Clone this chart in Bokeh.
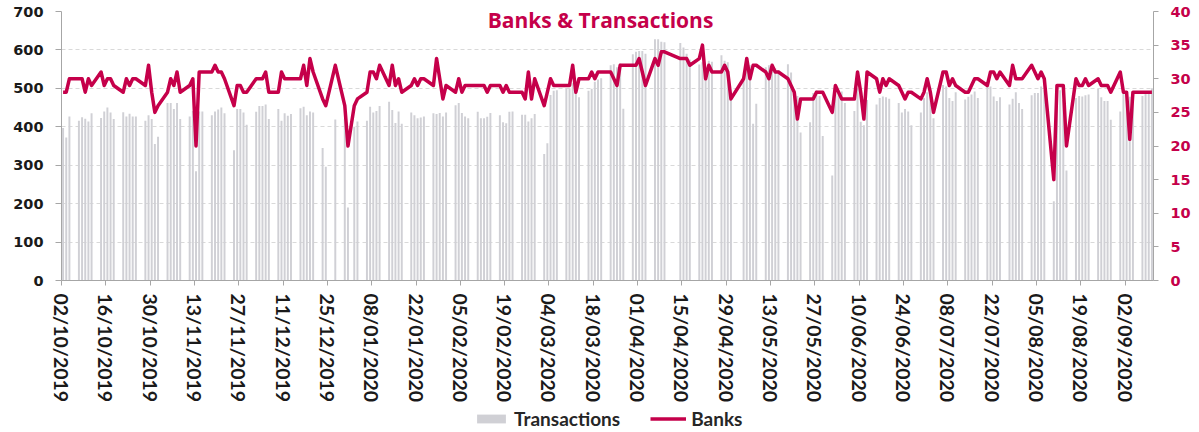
import pandas as pd
from bokeh.plotting import figure
from bokeh.layouts import column
from bokeh.models import (ColumnDataSource, Range1d, LinearAxis, FixedTicker,
                          DatetimeTickFormatter, Legend, LegendItem, Label)
from bokeh.embed import file_html
from bokeh.resources import INLINE

# ---------------- data ----------------
start_date = "2019-10-02"
end_date = "2020-09-10"
holidays = ["2019-12-25", "2019-12-26", "2020-01-01",
            "2020-04-10", "2020-04-13", "2020-05-01"]

transactions = [
    397, 372, 427,                      # Oct 2-4
    416, 425, 421, 414, 435,            # Oct 7-11
    423, 440, 450, 437, 420,            # Oct 14-18
    438, 427, 434, 427, 427,            # Oct 21-25
    416, 430, 420, 355, 374,            # Oct 28-Nov 1
    462, 462, 446, 462, 420,            # Nov 4-8
    427, 441, 284, 440, 440,            # Nov 11-15
    430, 440, 445, 450, 435,            # Nov 18-22
    339, 446, 446, 437, 405,            # Nov 25-29
    439, 454, 454, 458, 420,            # Dec 2-6
    446, 416, 435, 429, 433,            # Dec 9-13
    448, 452, 430, 440, 437,            # Dec 16-20
    345, 296, 419,                      # Dec 23, 24, 27
    420, 190, 400, 414,                 # Dec 30, 31, Jan 2, 3
    416, 452, 437, 441, 454,            # Jan 6-10
    465, 444, 410, 440, 408,            # Jan 13-17
    437, 430, 422, 424, 427,            # Jan 20-24
    435, 433, 436, 427, 437,            # Jan 27-31
    456, 462, 436, 427, 422,            # Feb 3-7
    439, 422, 422, 426, 436,            # Feb 10-14
    430, 412, 409, 439, 440,            # Feb 17-21
    431, 431, 414, 422, 433,            # Feb 24-28
    329, 357, 483, 494, 495,            # Mar 2-6
    500, 500, 513, 500, 477,            # Mar 9-13
    494, 499, 517, 523, 526,            # Mar 16-20
    560, 563, 555, 565, 447,            # Mar 23-27
    589, 595, 597, 597, 590,            # Mar 30-Apr 3
    628, 628, 621, 620,                 # Apr 6-9
    618, 606, 590, 575,                 # Apr 14-17
    562, 568, 534, 572, 569,            # Apr 20-24
    586, 572, 568, 471,                 # Apr 27-30
    520, 575, 560, 408, 460,            # May 4-8
    555, 560, 548, 552, 548,            # May 11-15
    563, 541, 495, 480, 385,            # May 18-22
    412, 488, 495, 480, 376,            # May 25-29
    273, 487, 495, 492, 462,            # Jun 1-5
    441, 500, 413, 404, 470,            # Jun 8-12
    458, 475, 479, 477, 473,            # Jun 15-19
    462, 437, 446, 440, 404,            # Jun 22-26
    437, 475, 490, 482, 422,            # Jun 29-Jul 3
    509, 505, 475, 467, 490,            # Jul 6-10
    471, 478, 484, 492, 475,            # Jul 13-17
    505, 505, 479, 467, 477,            # Jul 20-24
    458, 473, 490, 462, 446,            # Jul 27-31
    482, 488, 488, 505, 495,            # Aug 3-7
    206, 480, 495, 470, 286,            # Aug 10-14
    475, 480, 479, 482, 484,            # Aug 17-21
    499, 477, 467, 467, 418,            # Aug 24-28
    440, 490, 480, 478, 475,            # Aug 31-Sep 4
    480, 485, 488, 500,                 # Sep 7-10
]

banks = [
    28, 28, 30,
    30, 30, 28, 30, 29,
    31, 29, 30, 30, 29,
    28, 30, 29, 30, 30,
    29, 32, 28, 25, 26,
    28, 30, 29, 31, 28,
    29, 30, 20, 31, 31,
    31, 32, 31, 31, 30,
    26, 29, 29, 28, 28,
    30, 30, 30, 31, 28,
    28, 31, 30, 30, 30,
    30, 32, 29, 33, 31,
    27, 26, 32,
    26, 20, 26, 27,
    28, 31, 31, 30, 32,
    29, 32, 29, 30, 28,
    29, 30, 29, 30, 30,
    29, 33, 30, 27, 29,
    28, 30, 28, 29, 29,
    29, 29, 29, 28, 29,
    29, 28, 29, 28, 28,
    28, 27, 31, 27, 30,
    26, 28, 30, 29, 29,
    29, 29, 32, 28, 30,
    30, 31, 30, 31, 31,
    31, 30, 29, 32, 32,
    32, 32, 33, 31, 29,
    33, 32, 34, 34,
    33, 33, 33, 32,
    33, 35, 30, 32, 31,
    31, 32, 31, 27,
    30, 33, 30, 32, 32,
    31, 30, 32, 31, 31,
    30, 29, 28, 24, 27,
    27, 27, 28, 28, 28,
    25, 29, 28, 27, 27,
    27, 31, 28, 24, 31,
    30, 28, 30, 29, 30,
    29, 28, 27, 28, 28,
    27, 28, 30, 28, 25,
    31, 31, 29, 30, 29,
    28, 28, 29, 30, 30,
    29, 31, 31, 30, 31,
    29, 32, 30, 30, 30,
    32, 31, 30, 31, 30,
    15, 29, 29, 29, 20,
    30, 29, 29, 30, 29,
    30, 29, 29, 29, 28,
    31, 28, 28, 21, 28,
    28, 28, 28, 28,
]

tick_dates = pd.date_range(start_date, "2020-09-02", freq="14D")

# ---------------- build ----------------
days = pd.bdate_range(start_date, end_date)
days = days[~days.isin(pd.to_datetime(holidays))]
assert len(days) == len(transactions) == len(banks), (len(days), len(transactions), len(banks))

centers = days + pd.Timedelta(hours=12)
src = ColumnDataSource(dict(x=centers, trans=transactions, banks=banks))

CRIMSON = "#C5004A"
BARGRAY = "#D0D0D5"
AXISGRAY = "#A6A6A6"
DAY_MS = 86400000

x0 = pd.Timestamp(start_date)
x1 = pd.Timestamp(end_date) + pd.Timedelta(days=1)

p = figure(width=1199, height=405, x_axis_type="datetime",
           x_range=Range1d(x0, x1), y_range=Range1d(0, 700),
           output_backend="svg", toolbar_location=None,
           min_border_left=61, min_border_right=46,
           min_border_top=11, min_border_bottom=117)
p.outline_line_color = None
p.extra_y_ranges = {"banks": Range1d(0, 40)}

bars = p.vbar(x="x", top="trans", width=0.62 * DAY_MS, source=src,
              fill_color=BARGRAY, line_color=None)
line = p.line(x="x", y="banks", y_range_name="banks", source=src,
              line_color=CRIMSON, line_width=3.5, line_join="round")

# x axis
xa = p.xaxis[0]
xa.ticker = FixedTicker(ticks=[t.value // 10**6 for t in tick_dates])
fmt = "%d/%m/%Y"
xa.formatter = DatetimeTickFormatter(microseconds=fmt, milliseconds=fmt, seconds=fmt,
                                     minsec=fmt, minutes=fmt, hourmin=fmt, hours=fmt,
                                     days=fmt, months=fmt, years=fmt)
xa.major_label_orientation = "vertical"
xa.major_label_text_font = "Lato"
xa.major_label_text_font_style = "bold"
xa.major_label_text_font_size = "19.5px"
xa.major_label_text_color = "#1A1A1A"
xa.major_tick_out = 5
xa.major_tick_in = 0
xa.minor_tick_out = 0
xa.minor_tick_in = 0
xa.major_label_standoff = 8
xa.axis_line_color = AXISGRAY
xa.major_tick_line_color = AXISGRAY

# left axis
ya = p.yaxis[0]
ya.ticker = FixedTicker(ticks=list(range(0, 701, 100)))
ya.major_label_text_font = "DejaVu Sans"
ya.major_label_text_font_style = "bold"
ya.major_label_text_font_size = "14.5px"
ya.major_label_text_color = "#1A1A1A"
ya.major_tick_out = 6
ya.major_tick_in = 0
ya.minor_tick_out = 0
ya.minor_tick_in = 0
ya.major_label_standoff = 12
ya.axis_line_color = AXISGRAY
ya.major_tick_line_color = AXISGRAY

# right axis
ra = LinearAxis(y_range_name="banks", ticker=FixedTicker(ticks=list(range(0, 41, 5))))
ra.major_label_text_font = "DejaVu Sans"
ra.major_label_text_font_style = "bold"
ra.major_label_text_font_size = "14.5px"
ra.major_label_text_color = CRIMSON
ra.major_tick_out = 5
ra.major_tick_in = 0
ra.minor_tick_out = 0
ra.minor_tick_in = 0
ra.major_label_standoff = 12
ra.axis_line_color = AXISGRAY
ra.major_tick_line_color = AXISGRAY
p.add_layout(ra, "right")

p.xgrid.grid_line_color = None
p.ygrid.ticker = FixedTicker(ticks=list(range(100, 701, 100)))
p.ygrid.grid_line_color = "#D9D9D9"
p.ygrid.grid_line_dash = "4 3"

title = Label(x=x0 + pd.Timedelta(days=170.3), y=677, text="Banks & Transactions",
              text_font="Open Sans", text_font_style="bold", text_font_size="21px",
              text_color=CRIMSON, text_align="center", text_baseline="middle")
p.add_layout(title)

# ---------------- legend strip ----------------
lg = figure(width=1199, height=27, output_backend="svg", toolbar_location=None,
            x_range=Range1d(0, 1), y_range=Range1d(0, 1),
            x_axis_location=None, y_axis_location=None, min_border=0)
lg.outline_line_color = None
lg.grid.grid_line_color = None
# off-range placeholders: only their legend swatches are seen
lg_bar = lg.vbar(x=[-10], top=[-10], width=1, fill_color=BARGRAY, line_color=None)
lg_line = lg.line(x=[-10, -9], y=[-10, -10], line_color=CRIMSON, line_width=3.5)
legend = Legend(items=[LegendItem(label="Transactions", renderers=[lg_bar]),
                       LegendItem(label="Banks", renderers=[lg_line])],
                orientation="horizontal", location=(412, 2),
                border_line_color=None, background_fill_alpha=0,
                label_text_font="Lato", label_text_font_style="bold",
                label_text_font_size="19px", label_text_color="#262626",
                glyph_width=36, glyph_height=11, spacing=30, padding=0,
                margin=0, label_standoff=5)
lg.add_layout(legend)

open("out.html", "w").write(file_html(column(p, lg, spacing=0), INLINE))
